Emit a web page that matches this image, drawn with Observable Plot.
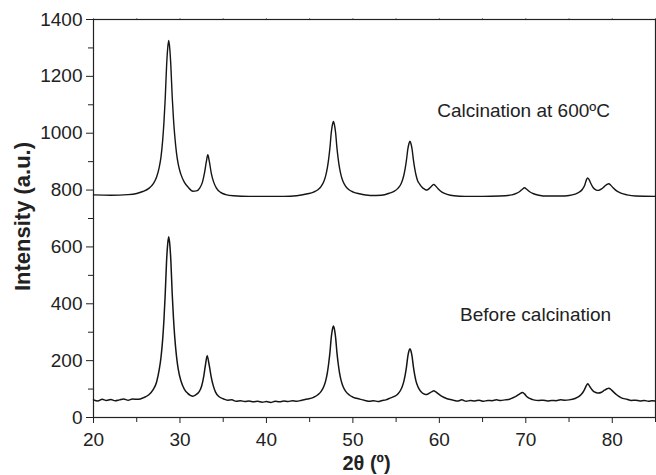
<!DOCTYPE html>
<html>
<head>
<meta charset="utf-8">
<script src="https://cdn.jsdelivr.net/npm/d3@7"></script>
<script src="https://cdn.jsdelivr.net/npm/@observablehq/plot@0.6"></script>
<style>
  html, body { margin: 0; padding: 0; background: #fff; }
</style>
</head>
<body>
<div id="chart"></div>
<script>
// 2θ (°) and intensity (a.u.)
const calcTheta = [20,22,24,25,25.7,26.4,26.9,27.3,27.6,27.8,28.0,28.15,28.3,28.45,28.58,28.7,28.82,28.95,29.1,29.25,29.4,29.6,29.8,30.1,30.5,30.95,31.5,31.9,32.3,32.6,32.85,33.05,33.22,33.4,33.62,33.9,34.2,34.7,35.3,36.2,38,40,42,43.5,44.75,45.45,45.95,46.35,46.65,46.85,47.05,47.2,47.35,47.5,47.63,47.75,47.87,48.0,48.15,48.3,48.45,48.65,48.85,49.15,49.55,50.05,50.75,52,53.3,54.3,54.8,55.2,55.5,55.7,55.9,56.05,56.2,56.35,56.48,56.6,56.72,56.85,57.0,57.15,57.3,57.5,57.7,58.0,58.3,58.55,58.85,59.15,59.35,59.55,59.85,60.3,60.9,61.7,63,65,67,68.4,68.9,69.3,69.6,69.85,70.1,70.45,70.9,71.5,72.5,74,75.0,75.7,76.2,76.55,76.8,77.0,77.15,77.3,77.5,77.8,78.1,78.4,78.75,79.1,79.4,79.6,79.8,80.1,80.5,81.0,81.7,82.7,85];
const calcIntensity = [783,782,784,788,795,806,822,846,880,915,975,1040,1125,1235,1298,1326,1298,1235,1130,1050,990,930,891,856,828,810,796,797,808,828,862,900,924,900,860,828,808,792,784,780,778,778,778,780,787,793,801,814,831,850,879,910,950,1002,1029,1041,1029,1002,950,910,879,850,831,814,801,793,787,781,782,790,796,806,818,832,853,876,906,943,963,972,963,943,906,876,853,832,822,810,803,800,806,815,820,815,805,793,785,780,778,778,779,783,788,795,803,808,803,794,787,782,779,779,781,786,793,803,816,835,843,838,825,808,801,799,804,813,820,822,818,808,797,789,783,779,778];

const beforeTheta = [20,20.5,21,21.5,22,22.5,23,23.5,24,24.5,25.2,25.8,26.4,26.9,27.3,27.6,27.8,28.0,28.15,28.3,28.45,28.58,28.7,28.82,28.95,29.1,29.25,29.4,29.6,29.8,30.1,30.5,30.9,31.2,31.5,31.8,32.2,32.5,32.75,32.95,33.15,33.35,33.6,33.85,34.1,34.5,35.0,35.5,36,36.5,37,37.5,38,38.5,39,39.5,40,40.5,41,41.5,42,42.5,43,43.5,44.1,44.75,45.45,45.95,46.35,46.65,46.85,47.05,47.2,47.35,47.5,47.63,47.75,47.87,48.0,48.15,48.3,48.45,48.65,48.85,49.15,49.55,50.05,50.75,51.4,51.9,52.4,52.9,53.4,53.8,54.3,54.8,55.2,55.5,55.7,55.9,56.05,56.2,56.35,56.48,56.6,56.72,56.85,57.0,57.15,57.3,57.5,57.7,58.0,58.3,58.55,58.85,59.15,59.35,59.55,59.85,60.3,60.9,61.6,62.1,62.6,63.1,63.6,64.1,64.6,65.1,65.6,66.1,66.6,67.1,67.6,68.0,68.4,68.9,69.3,69.6,69.85,70.1,70.45,70.9,71.5,72.0,72.5,73.0,73.5,74.0,74.5,75.0,75.7,76.2,76.55,76.8,77.0,77.15,77.3,77.5,77.8,78.1,78.4,78.75,79.1,79.4,79.6,79.8,80.1,80.5,81.0,81.7,82.2,82.7,83.2,83.7,84.2,84.6,85];
const beforeIntensity = [62,58,64,60,63,59,62,65,61,65,64,70,80,98,125,168,210,275,345,437,550,610,636,610,550,437,349,281,215,170,130,100,85,78,75,79,90,110,145,185,217,190,145,112,90,74,66,61,62,57,59,56,58,55,57,54,56,53,57,55,58,56,59,57,61,65,71,80,93,110,129,158,190,230,282,310,322,310,282,230,190,158,129,110,93,80,71,65,60,57,59,56,60,62,68,74,83,95,108,128,150,178,214,234,242,234,214,178,150,128,110,98,87,82,81,86,91,94,91,84,74,66,61,58,62,57,60,58,61,57,60,59,62,60,62,63,68,75,83,88,83,74,67,62,60,61,58,60,59,62,61,62,67,75,86,99,112,119,114,104,93,88,86,89,96,101,103,100,91,80,70,64,60,61,58,60,57,59,58];

const xTicks = [20, 30, 40, 50, 60, 70, 80];
const xMinorTicks = [25, 35, 45, 55, 65, 75, 85];
const yTicks = [0, 200, 400, 600, 800, 1000, 1200, 1400];
const yMinorTicks = [100, 300, 500, 700, 900, 1100, 1300];

const seriesLabels = ["Calcination at 600ºC", "Before calcination"];
const labelTheta = [59.75, 62.4];
const labelIntensity = [1080, 362];

const xLabel = "2θ (º)";
const yLabel = "Intensity (a.u.)";

const calcined = calcTheta.map((t, i) => ({theta: t, intensity: calcIntensity[i]}));
const before = beforeTheta.map((t, i) => ({theta: t, intensity: beforeIntensity[i]}));
const labels = seriesLabels.map((s, i) => ({text: s, theta: labelTheta[i], intensity: labelIntensity[i]}));

const ink = "#222";
const fmt = d3.format("d");

const chart = Plot.plot({
  width: 656,
  height: 475,
  marginLeft: 93,
  marginRight: 1,
  marginTop: 19,
  marginBottom: 58,
  x: {domain: [20, 85]},
  y: {domain: [0, 1400]},
  style: {fontFamily: "'Liberation Sans', Arial, sans-serif", fontSize: "19px", color: ink, background: "#fff", overflow: "visible"},
  marks: [
    Plot.axisX({ticks: xTicks, tickSize: 6, tickPadding: 9, tickFormat: fmt, label: null, stroke: ink, fill: ink}),
    Plot.axisX({ticks: xMinorTicks, tickSize: 5, tickFormat: () => "", label: null, stroke: ink}),
    Plot.axisY({ticks: yTicks, tickSize: 7, tickPadding: 4, tickFormat: fmt, label: null, stroke: ink, fill: ink}),
    Plot.axisY({ticks: yMinorTicks, tickSize: 5, tickFormat: () => "", label: null, stroke: ink}),
    Plot.axisX({anchor: "top", ticks: xTicks.concat(xMinorTicks), tickSize: 2, tickFormat: () => "", label: null, stroke: "#888"}),
    Plot.frame({stroke: ink, strokeWidth: 1.2}),
    Plot.line(calcined, {x: "theta", y: "intensity", curve: "monotone-x", stroke: "#151515", strokeWidth: 1.4}),
    Plot.line(before, {x: "theta", y: "intensity", curve: "monotone-x", stroke: "#151515", strokeWidth: 1.5}),
    Plot.text(labels, {x: "theta", y: "intensity", text: "text", textAnchor: "start", fontSize: 19, fill: ink}),
    Plot.text([xLabel], {frameAnchor: "bottom", dx: -8, dy: 52, fontWeight: "bold", fontSize: 20, fill: ink}),
    Plot.text([yLabel], {frameAnchor: "left", textAnchor: "middle", rotate: -90, dx: -71, dy: -2, fontWeight: "bold", fontSize: 22, fill: ink})
  ]
});

document.getElementById("chart").appendChild(chart);
</script>
</body>
</html>
